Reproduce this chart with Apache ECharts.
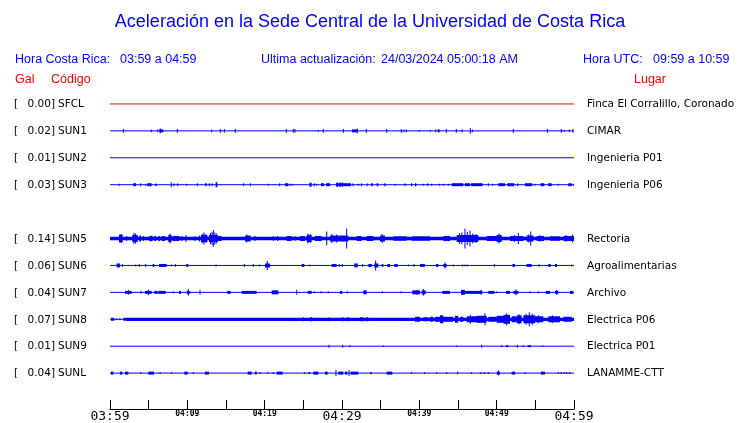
<!DOCTYPE html>
<html>
<head>
<meta charset="utf-8">
<script src="https://cdn.jsdelivr.net/npm/echarts@6.0.0/dist/echarts.min.js"></script>
<style>
html,body{margin:0;padding:0;background:#fff;}
#chart{width:740px;height:423px;}
</style>
</head>
<body>
<div id="chart"></div>
<script>
// ---------- DATA ----------
const title = 'Aceleración en la Sede Central de la Universidad de Costa Rica';
const horaCR = '03:59 a 04:59';
const horaUTC = '09:59 a 10:59';
const ultimaAct = '24/03/2024 05:00:18 AM';

const stations = ['SFCL', 'SUN1', 'SUN2', 'SUN3', 'SUN5', 'SUN6', 'SUN7', 'SUN8', 'SUN9', 'SUNL'];
const peakGal = ['0.00', '0.02', '0.01', '0.03', '0.14', '0.06', '0.04', '0.07', '0.01', '0.04'];
const places = ['Finca El Corralillo, Coronado', 'CIMAR', 'Ingenieria P01', 'Ingenieria P06',
  'Rectoria', 'Agroalimentarias', 'Archivo', 'Electrica P06', 'Electrica P01', 'LANAMME-CTT'];
const rowSlots = [0, 1, 2, 3, 5, 6, 7, 8, 9, 10];

// minutes after 03:59
const tickLabels = ['03:59', '04:09', '04:19', '04:29', '04:39', '04:49', '04:59'];

// trace envelopes: [start minute, end minute, half amplitude (relative units)]
const burstsSFCL = [];
const burstsSUN1 = [[1.72,1.72,2],[5.34,5.34,1.5],[6.17,6.17,1.5],[6.38,6.89,1.5],[6.5,6.5,2.5],[8.70,8.70,2],[13.15,13.15,1.5],[14.26,14.26,2],[14.78,14.78,2],[16.20,16.20,2],[22.80,22.80,2],[23.70,23.70,2],[23.92,23.92,2],[26.94,26.94,1],[27.58,27.58,2],[30.17,30.17,2],[31.29,31.98,1.5],[31.98,31.98,2.5],[33.14,33.14,2],[35.78,35.78,2],[37.67,37.67,2],[38.02,38.02,1.5],[38.32,38.32,1.5],[40.00,40.00,1],[41.42,41.42,1],[42.12,42.12,1.5],[42.38,42.63,1.5],[43.49,43.49,2],[44.78,44.78,2],[45.48,45.61,1.5],[46.59,46.59,3],[46.85,46.85,1.5],[52.15,52.15,2],[56.55,56.55,2],[58.36,58.36,2],[58.75,58.75,1],[59.39,59.39,1.5],[59.87,59.87,2]];
const burstsSUN2 = [];
const burstsSUN3 = [[1.2,1.2,1],[3.01,3.36,1.5],[3.97,3.97,1.5],[4.62,4.62,1],[4.82,5.39,1.5],[5.82,6.08,1],[7.85,7.97,2.5],[8.28,8.28,1.5],[8.75,8.75,1.5],[9.91,9.91,1],[11.29,11.29,1.5],[12.28,12.5,1.5],[12.84,12.84,1.5],[13.19,13.19,1.5],[13.66,13.88,2.5],[17.28,17.28,1.5],[18.15,18.15,1.5],[20.47,20.47,1],[21.94,21.94,1.5],[22.63,23.06,1.5],[23.28,23.28,1],[23.57,23.57,1],[25.78,26.08,2],[26.42,26.42,1.5],[26.72,26.72,1],[27.28,27.67,1.5],[27.93,28.45,1.5],[29.22,29.52,2],[29.52,31.16,1.5],[29.74,29.74,2.5],[30.04,30.04,2.5],[31.42,31.42,1.5],[32.11,32.11,1],[32.54,32.54,1.5],[33.19,33.32,1.5],[33.75,33.97,1.5],[34.48,34.70,1.5],[35.47,35.65,1.5],[36.85,36.85,1],[38.15,38.15,1.5],[38.92,39.09,1.5],[39.44,39.61,1.5],[40.52,40.52,1],[41.04,41.16,1.5],[41.59,41.59,1],[42.59,42.59,1],[43.1,43.1,1],[43.75,43.75,1],[44.18,45.69,1.5],[45.9,46.55,1.5],[46.68,48.19,1.5],[48.92,48.92,1.5],[49.48,49.48,1],[50.22,51.08,1.5],[51.38,52.28,1.5],[52.72,52.72,1.5],[53.66,54.61,1.5],[54.96,54.96,1],[55.69,56.16,1.5],[56.68,57.11,1.5],[57.97,57.97,1],[59.27,59.7,1.5],[59.91,59.91,1]];
const burstsSUN5 = [[0,60,1.7],[1.16,1.64,3.5],[1.3,1.3,4.5],[1.5,1.5,4.5],[2.16,2.16,2.5],[2.88,3.58,3.5],[3.1,3.1,5.7],[3.3,3.3,5],[3.79,4.01,3],[4.31,4.31,2.5],[5.08,5.52,2.5],[5.3,5.3,3],[5.73,5.95,2.5],[6.25,6.47,2.5],[6.68,7.11,2.5],[7.54,7.97,3.5],[7.75,7.75,5],[8.1,8.96,2.5],[9.27,9.27,2.5],[9.83,9.83,3.5],[10.99,10.99,2.5],[11.51,11.64,3],[11.77,12.59,3.5],[12.0,12.0,5],[12.16,12.16,6],[12.4,12.4,4.5],[12.8,14,3.5],[13.0,13.0,5.5],[13.2,13.2,6.5],[13.36,13.36,8.5],[13.55,13.55,6],[13.75,13.75,5],[14,14.44,2.5],[17.46,18.19,3],[17.7,17.7,4],[18.75,18.75,2.5],[21.12,21.12,2.5],[21.68,21.68,2.5],[22.85,23.49,2.5],[23.92,23.92,2.5],[24.57,25.22,2.5],[25.43,26.08,3.5],[25.6,25.6,5],[25.9,25.9,4.5],[26.51,27.37,2.5],[28.02,28.02,7],[28.45,29.65,3],[28.7,28.7,4.5],[29.3,29.3,4],[29.65,30.17,3],[30.09,30.82,3],[30.6,30.6,10],[31.9,32.54,2.5],[33.19,34.05,2.5],[34.91,35.56,3],[35.2,35.2,4.5],[36.64,38.36,2.2],[39,41.38,2.2],[43.1,43.97,2.5],[44.83,47.63,3.5],[45.2,45.2,5.5],[45.5,45.5,6],[45.9,45.9,10],[46.2,46.2,6.5],[46.55,46.55,8],[46.9,46.9,5],[47.3,47.3,4.5],[48.71,50.65,2.5],[50,50.65,3.5],[50.3,50.3,5],[51.72,53.45,2.5],[52.3,52.3,3.5],[52.8,52.8,5.5],[53.88,54.74,3],[54.1,54.1,4],[54.4,54.4,7],[55.17,56.12,2.5],[55.6,55.6,3.5],[56.9,58.19,2.2],[58.62,59.48,2.5],[58.97,58.97,3.5],[59.48,60,2.5],[59.8,59.8,4]];
const burstsSUN6 = [[0.86,1.29,2],[1.59,1.59,1.5],[3.32,3.32,1],[3.79,3.79,1.5],[4.61,4.61,1.5],[5.52,5.73,1.5],[6.34,7.33,1.5],[7.93,7.93,1],[8.45,8.45,1.5],[9.87,10.13,1.5],[13.71,13.71,1],[17.37,17.37,1.5],[18.53,18.53,1.5],[19.31,19.31,1],[20.04,20.69,2],[20.34,20.34,4.5],[24.79,25.13,1.5],[25.86,25.86,1],[28.66,29.31,1.5],[29.65,29.65,1.5],[30.04,30.04,1.5],[31.59,32.03,2],[32.67,32.67,1.5],[33.41,33.84,1.5],[34.18,34.70,2],[34.35,34.35,5],[35.13,35.34,1.5],[35.86,36.21,1.5],[36.77,37.2,1.5],[38.58,38.58,1],[39.31,39.31,1.5],[40.09,40.73,1.5],[42.16,42.46,1.5],[43.1,43.54,1.5],[43.32,43.32,3],[44.39,44.39,1],[45.6,45.6,1],[45.9,45.9,1],[46.2,46.2,1],[49.7,49.7,1.5],[52.03,52.37,1.5],[53.88,54.53,1.5],[55.47,55.47,1.5],[56.68,56.98,1.5],[57.54,57.8,1.5],[59.7,59.7,1]];
const burstsSUN7 = [[1.94,2.8,1.5],[2.37,2.37,2.5],[4.01,4.01,1.5],[4.53,5.39,1.5],[4.96,4.96,3],[5.73,6.17,1.5],[6.25,7.2,1.5],[8.19,8.19,1],[8.92,9.18,1.5],[9.92,10.39,1.5],[10.13,10.13,3.5],[11.64,11.64,2.5],[15.17,15.61,1.5],[17.03,18.97,1.5],[20.91,21.77,2],[24.14,24.14,2.5],[25.56,26.08,1.5],[26.42,26.42,1],[27.28,27.28,1],[28.23,28.23,1],[29.74,30.04,1.5],[30.69,30.69,1],[32.76,33.19,2],[35.22,35.22,1],[37.63,37.63,1],[39.09,40.09,2],[39.7,39.7,2.5],[40.3,40.82,2],[40.52,40.52,3.5],[42.97,43.97,1.5],[45.39,45.9,2.5],[45.9,48.15,1.5],[47.97,47.97,2.5],[48.92,49.7,1.5],[50,50,1],[51.21,51.72,1.5],[52.16,52.8,1.5],[52.5,52.5,3],[54.31,54.31,1],[55.39,55.39,1],[56.34,56.9,1.5],[57.54,57.97,1.5],[57.76,57.76,2.5],[59.48,59.91,1.5]];
const burstsSUN8 = [[0.13,0.56,1.5],[0.86,0.86,1],[1.29,1.29,1],[1.72,2.03,1.5],[2.03,60,1.6],[25,25,2],[25.86,26.16,2],[28.32,28.32,2],[29.96,30.17,2],[30.69,30.95,2],[32.33,32.76,2],[33.1,33.4,2],[39.44,40.09,2.5],[40.52,41.16,2],[41.38,41.81,2.5],[42.03,44.39,2.5],[42.67,43.1,4],[44.61,45.04,3.5],[45.26,45.69,2.5],[46.12,47.85,3],[46.6,46.6,4.5],[47.41,48.71,3.5],[48.49,48.49,6],[48.92,50,2.5],[50,51.72,3.5],[50.9,51.72,4.5],[51.3,51.3,6],[51.94,52.59,3],[52.59,53.23,4],[52.9,52.9,5],[53.45,54.96,4],[53.8,53.8,5.5],[54.22,54.22,7],[54.6,54.6,5.5],[54.96,56.03,3],[55.4,55.4,4],[56.68,58.19,3],[57.2,57.2,4],[58.62,59.7,2.5]];
const burstsSUN9 = [[28.32,28.32,1.5],[30.09,30.09,1.5],[31.03,31.03,1],[35.34,35.34,0.8],[44.83,44.83,0.8],[48.06,48.06,1.5],[50.65,50.65,1],[51.21,51.5,1],[52.67,52.67,1.5],[53.45,53.45,1],[54.01,54.44,1],[55.95,55.95,0.8]];
const burstsSUNL = [[0.13,0.43,1.5],[1.29,1.59,1.5],[1.94,2.37,1.5],[3.97,3.97,1],[4.96,5.69,1.5],[6.47,6.47,1],[7.97,7.97,1],[9.61,10.04,1.5],[10.77,10.77,1],[12.28,12.8,1.5],[17.8,18.32,1.5],[18.75,18.97,1.5],[19.4,19.4,1],[20.39,20.39,1],[21.12,21.12,1],[21.55,22.33,1.5],[25.13,25.13,1],[25.65,25.86,1],[26.29,26.94,1.5],[27.8,28.15,1.5],[29.22,29.22,3],[29.52,30.17,1.5],[30.39,30.69,1.5],[30.9,30.9,3],[31.12,32.11,1.5],[33.62,33.84,1],[35.78,36.51,1.5],[39,39,1],[40.65,40.65,1],[42.24,42.24,1],[43.54,43.54,1],[44.96,44.96,1.5],[46.77,46.77,1],[47.97,47.97,1],[48.4,48.4,1],[48.92,48.92,1],[50,50.43,1.5],[50.22,50.22,2.5],[51.94,52.37,1.5],[53.66,53.66,1],[55.73,56.25,1.5],[57.97,57.97,1],[58.32,58.32,1],[58.71,58.71,1],[59.05,59.05,1],[59.48,59.48,1]];
const bursts = [burstsSFCL, burstsSUN1, burstsSUN2, burstsSUN3, burstsSUN5, burstsSUN6, burstsSUN7, burstsSUN8, burstsSUN9, burstsSUNL];

// ---------- CHART ----------
const BLUE = '#0000ff', RED = '#ff0000';
const AMP = 1 / 27; // relative amplitude -> row units
const chart = echarts.init(document.getElementById('chart'), null, {renderer: 'canvas'});

const series = [];
stations.forEach((st, i) => {
  const row = rowSlots[i];
  const color = i === 0 ? RED : BLUE;
  series.push({
    type: 'line', silent: true, symbol: 'none', animation: false,
    data: [[0, row], [60, row]],
    lineStyle: {color: color, width: 1}
  });
  series.push({
    type: 'custom', silent: true, animation: false, clip: false,
    data: bursts[i],
    encode: {x: [0, 1]},
    renderItem: function (params, api) {
      const t0 = api.value(0), t1 = api.value(1), a = api.value(2) * AMP;
      const p0 = api.coord([t0, row - a]);
      const p1 = api.coord([t1, row + a]);
      let x = p0[0], w = p1[0] - p0[0];
      if (w < 1) { x = x - (1 - w) / 2; w = 1; }
      const y = Math.min(p0[1], p1[1]);
      const h = Math.abs(p1[1] - p0[1]);
      return {type: 'rect', shape: {x: x, y: y, width: w, height: h}, style: {fill: color}};
    }
  });
});

const option = {
  backgroundColor: '#ffffff',
  animation: false,
  grid: {left: 110, right: 166, top: 90.5, bottom: 13.5, containLabel: false},
  xAxis: {
    type: 'value', min: 0, max: 60, interval: 5, position: 'bottom',
    axisLine: {show: true, onZero: false, lineStyle: {color: '#000', width: 1}},
    axisTick: {show: true, inside: true, length: 9, lineStyle: {color: '#000', width: 1}},
    splitLine: {show: false},
    axisLabel: {
      show: true, margin: 1, showMinLabel: true, showMaxLabel: true,
      formatter: function (v) {
        if (v % 10 !== 0) return '';
        const k = v / 10;
        return (k % 3 === 0 ? '{big|' : '{small|') + tickLabels[k] + '}';
      },
      rich: {
        big: {fontFamily: 'DejaVu Sans Mono', fontSize: 13, color: '#000'},
        small: {fontFamily: 'DejaVu Sans Mono', fontSize: 8, fontWeight: 'bold', color: '#000'}
      }
    }
  },
  yAxis: {type: 'value', min: -0.5, max: 11 + 1 / 3, inverse: true, show: false},
  series: series
};
chart.setOption(option);

const graphics = [];
function txt(x, y, text, opts) {
  graphics.push({type: 'text', x: x, y: y, silent: true, style: Object.assign({
    text: text, fill: '#000', font: '10.5px "DejaVu Sans"', textAlign: 'left', textVerticalAlign: 'middle'
  }, opts || {})});
}
const HF = '12.5px "Liberation Sans"';
txt(370, 22, title, {fill: BLUE, font: '18px "Liberation Sans"', textAlign: 'center'});
txt(15, 60, 'Hora Costa Rica:', {fill: BLUE, font: HF});
txt(120, 60, horaCR, {fill: BLUE, font: HF});
txt(261, 60, 'Ultima actualización:', {fill: BLUE, font: HF});
txt(381, 60, ultimaAct, {fill: BLUE, font: HF});
txt(583, 60, 'Hora UTC:', {fill: BLUE, font: HF});
txt(653, 60, horaUTC, {fill: BLUE, font: HF});
txt(15, 80, 'Gal', {fill: RED, font: HF});
txt(51, 80, 'Código', {fill: RED, font: HF});
txt(634, 80, 'Lugar', {fill: RED, font: HF});

stations.forEach((st, i) => {
  const p = chart.convertToPixel({gridIndex: 0}, [0, rowSlots[i]]);
  const y = p[1] + 0.5;
  txt(14, y, '[');
  txt(55, y, peakGal[i] + ']', {textAlign: 'right'});
  txt(58, y, st);
  txt(587, y, places[i]);
});
chart.setOption({graphic: graphics});
</script>
</body>
</html>
